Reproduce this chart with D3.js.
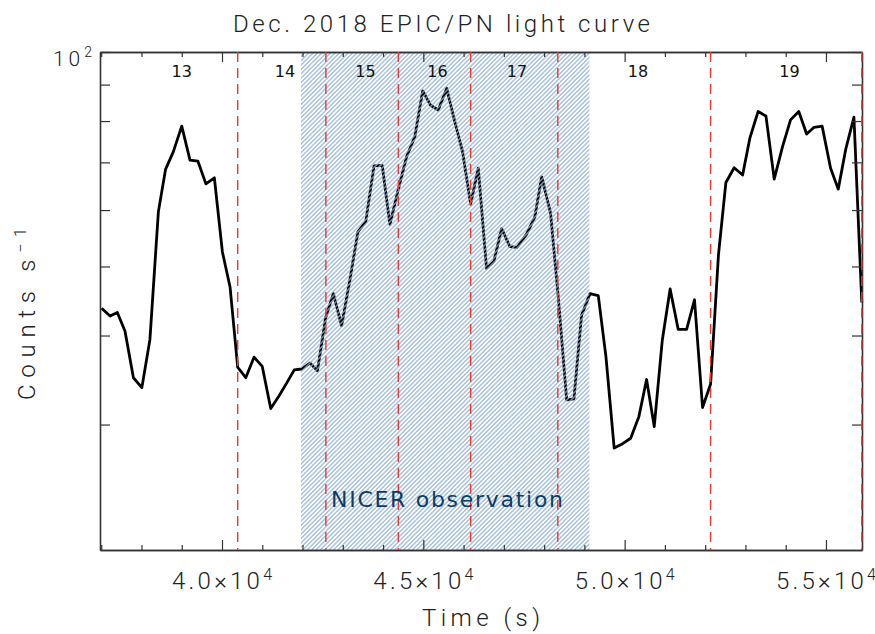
<!DOCTYPE html>
<html>
<head>
<meta charset="utf-8">
<script src="https://cdn.jsdelivr.net/npm/d3@7"></script>
<style>body{margin:0;background:#fff}</style>
</head>
<body>
<svg id="c" width="875" height="634"></svg>
<script>
// ---- data ----
const times = [37010,37220,37400,37590,37800,38010,38210,38420,38600,38790,
  39000,39205,39400,39600,39810,40010,40200,40390,40590,40795,
  41000,41210,41415,41605,41795,41980,42185,42370,42575,42765,
  42970,43180,43375,43570,43775,43980,44170,44380,44585,44790,
  44985,45180,45370,45580,45770,45975,46175,46365,46570,46750,
  46945,47150,47330,47565,47770,47940,48160,48350,48560,48740,
  48930,49140,49345,49535,49740,49950,50150,50355,50545,50735,
  50935,51130,51330,51540,51735,51935,52135,52330,52515,52720,
  52930,53110,53315,53510,53715,53920,54120,54325,54520,54705,
  54905,55115,55305,55495,55695,55890];
const counts = [43.7,42.6,43.1,40.6,34.9,33.8,39.5,59.7,68.5,72.4,
  78.7,70.5,70.3,65.3,66.6,52.4,46.8,36.1,34.9,37.3,
  36.2,31.6,32.9,34.3,35.8,35.9,36.6,35.7,42.4,45.8,
  41.3,48.0,55.9,57.8,69.2,69.3,57.3,64.2,71.3,76.1,
  88.2,84.2,82.9,88.9,80.3,72.4,61.2,68.7,49.7,50.8,
  56.5,53.3,53.2,55.5,58.7,66.8,59.4,45.4,32.5,32.6,
  42.7,45.8,45.5,37.4,27.8,28.2,28.7,30.8,34.7,29.8,
  39.4,46.5,40.8,40.8,44.9,31.7,34.2,51.9,65.6,68.8,
  67.2,75.7,82.5,81.3,66.3,73.6,80.3,82.5,76.7,78.4,
  78.7,68.7,64.2,73.2,81.0,44.5];
const sepTimes = [40390,42580,44380,46175,48340,52135,55890];
const segLabels = ["13","14","15","16","17","18","19"];
const segLabelTimes = [39000,41565,43563,45351,47325,50330,54095];
const nicerRange = [41960,49125];
const xMajorTicks = [40000,45000,50000,55000];
const xMajorMantissa = ["4.0","4.5","5.0","5.5"];
const xExponent = "4";
const yTicks = [30,40,50,60,70,80,90,100];
const yLabelValue = 100;

// ---- layout ----
const W = 875, H = 634, m = {l:100, r:13, t:52, b:84};
const svg = d3.select("#c");
const x = d3.scaleLinear().domain([36970,55895]).range([m.l, W - m.r]);
const y = d3.scaleLog().domain([20,100]).range([H - m.b, m.t]);

const defs = svg.append("defs");
const pat = defs.append("pattern").attr("id","hatch")
  .attr("patternUnits","userSpaceOnUse").attr("width",3.1).attr("height",3.1)
  .attr("patternTransform","rotate(45)");
pat.append("line").attr("x1",1.55).attr("x2",1.55).attr("y1",0).attr("y2",3.1)
  .attr("stroke","#90b0d4").attr("stroke-width",1.15);

// curve
const data = times.map((t,i)=>({t, c:counts[i]}));
svg.append("path").datum(data)
  .attr("d", d3.line().x(d=>x(d.t)).y(d=>y(d.c)))
  .attr("fill","none").attr("stroke","#000").attr("stroke-width",2.8)
  .attr("stroke-linejoin","round");

// hatched NICER region (over the curve)
svg.append("rect")
  .attr("x", x(nicerRange[0])).attr("y", m.t)
  .attr("width", x(nicerRange[1]) - x(nicerRange[0]))
  .attr("height", H - m.b - m.t)
  .attr("fill","url(#hatch)");

// axes
const axColor = "#333";
function styleAxis(g){
  g.selectAll("path.domain").attr("stroke",axColor).attr("stroke-width",1.6);
  g.selectAll(".tick line").attr("stroke",axColor).attr("stroke-width",1.2);
  g.selectAll(".tick text").remove();
}
const minorX = d3.range(37000, 56000, 1000).filter(v => xMajorTicks.indexOf(v) < 0);
svg.append("g").attr("transform",`translate(0,${H-m.b})`)
  .call(d3.axisBottom(x).tickValues(xMajorTicks).tickSize(-10).tickSizeOuter(0)).call(styleAxis);
svg.append("g").attr("transform",`translate(0,${H-m.b})`)
  .call(d3.axisBottom(x).tickValues(minorX).tickSize(-5).tickSizeOuter(0)).call(styleAxis);
svg.append("g").attr("transform",`translate(0,${m.t})`)
  .call(d3.axisTop(x).tickValues(xMajorTicks).tickSize(-10).tickSizeOuter(0)).call(styleAxis);
svg.append("g").attr("transform",`translate(0,${m.t})`)
  .call(d3.axisTop(x).tickValues(minorX).tickSize(-5).tickSizeOuter(0)).call(styleAxis);
svg.append("g").attr("transform",`translate(${m.l},0)`)
  .call(d3.axisLeft(y).tickValues(yTicks).tickSize(-10).tickSizeOuter(0)).call(styleAxis);
svg.append("g").attr("transform",`translate(${W-m.r},0)`)
  .call(d3.axisRight(y).tickValues(yTicks).tickSize(-10).tickSizeOuter(0)).call(styleAxis);

// separators (drawn over the axes, as in the reference)
svg.selectAll("line.sep").data(sepTimes).join("line").attr("class","sep")
  .attr("x1",d=>x(d)).attr("x2",d=>x(d)).attr("y1",m.t).attr("y2",H-m.b)
  .attr("stroke","#f03535").attr("stroke-width",1.4).attr("stroke-dasharray","10,6");

const thinFont = "Roboto, 'DejaVu Sans', sans-serif";

// x tick labels
xMajorTicks.forEach((v,i)=>{
  const t = svg.append("text").attr("x", x(v)).attr("y", 589)
    .attr("text-anchor","middle").attr("font-family",thinFont).attr("font-weight",300)
    .attr("font-size",24).attr("fill","#222")
    .attr("textLength",100).attr("lengthAdjust","spacing");
  t.append("tspan").text(xMajorMantissa[i] + "×10");
  t.append("tspan").attr("dy",-9).attr("font-size",16).text(xExponent);
});

// y tick label 10^2
const yl = svg.append("text").attr("x",53).attr("y",y(yLabelValue)+14)
  .attr("font-family",thinFont).attr("font-weight",300).attr("font-size",21).attr("fill","#222")
  .attr("textLength",39).attr("lengthAdjust","spacing");
yl.append("tspan").text("10");
yl.append("tspan").attr("dy",-9).attr("font-size",14).text("2");

// title
svg.append("text").attr("x",233).attr("y",32)
  .attr("font-family",thinFont).attr("font-weight",300).attr("font-size",24).attr("fill","#222")
  .attr("textLength",417).attr("lengthAdjust","spacing")
  .text("Dec. 2018 EPIC/PN light curve");

// x label
svg.append("text").attr("x",481).attr("y",626).attr("text-anchor","middle")
  .attr("font-family",thinFont).attr("font-weight",300).attr("font-size",24).attr("fill","#222")
  .attr("textLength",118).attr("lengthAdjust","spacing")
  .text("Time (s)");

// y label
const ylab = svg.append("text").attr("transform","translate(35,314) rotate(-90)")
  .attr("text-anchor","middle")
  .attr("font-family",thinFont).attr("font-weight",300).attr("font-size",24).attr("fill","#222")
  .attr("textLength",172).attr("lengthAdjust","spacing");
ylab.append("tspan").text("Counts s");
ylab.append("tspan").attr("dy",-9).attr("font-size",16).text("−1");

// segment labels
svg.selectAll("text.seg").data(segLabels).join("text").attr("class","seg")
  .attr("x",(d,i)=>x(segLabelTimes[i])).attr("y",77).attr("text-anchor","middle")
  .attr("font-family","'DejaVu Sans', sans-serif").attr("font-size",16).attr("fill","#111")
  .text(d=>d);

// NICER label
svg.append("text").attr("x",447).attr("y",507).attr("text-anchor","middle")
  .attr("font-family","'DejaVu Sans', sans-serif").attr("font-size",22).attr("fill","#0d3b66")
  .attr("textLength",232).attr("lengthAdjust","spacing")
  .text("NICER observation");
</script>
</body>
</html>
